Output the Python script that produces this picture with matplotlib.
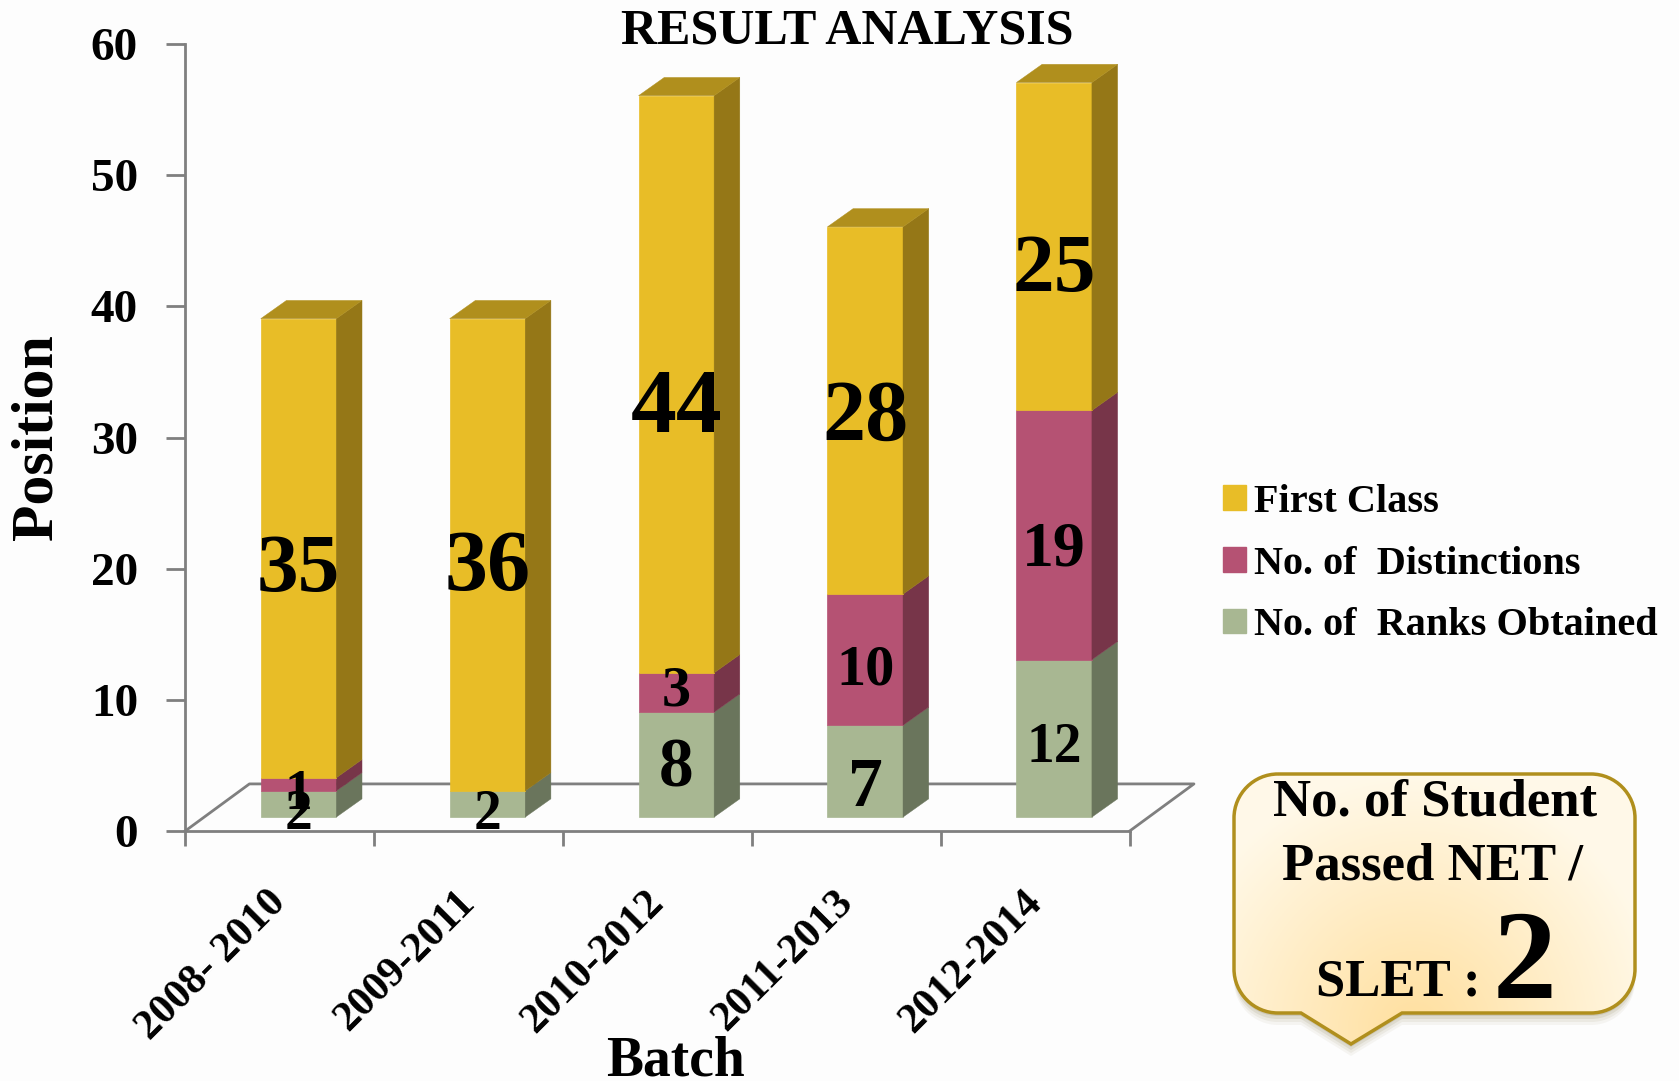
import numpy as np
import matplotlib
matplotlib.use("Agg")
import matplotlib.pyplot as plt
from matplotlib.patches import PathPatch, Polygon
from matplotlib.path import Path
from matplotlib.transforms import ScaledTranslation

plt.rcParams["font.family"] = ["Liberation Serif", "DejaVu Serif"]
plt.rcParams["font.weight"] = "bold"

batches = ["2008- 2010", "2009-2011", "2010-2012", "2011-2013", "2012-2014"]
ranks = [2, 2, 8, 7, 12]
distinctions = [1, 0, 3, 10, 19]
first_class = [35, 36, 44, 28, 25]

GRAY = "#7f7f7f"
FIG_W, FIG_H = 1679, 1081

# front face, side face, top face
series = [
    ("No. of  Ranks Obtained", ranks, "#A8B792", "#6A755C", "#8A967A"),
    ("No. of  Distinctions", distinctions, "#B55273", "#773549", "#93435E"),
    ("First Class", first_class, "#E8BD27", "#957717", "#B08F1D"),
]

# label tweaks, in value units and pt
label_dy = [
    [-0.85, -0.85, -0.35, -1.35, -0.75],
    [-0.85, 0.0, 0.05, -0.85, -1.15],
    [-1.75, -1.1, -1.95, -0.7, -1.9],
]
label_size = [
    [40, 40, 50, 50, 40],
    [40, 0, 42, 42, 46],
    [60, 62, 66, 62, 60],
]

BAR_W = 0.40
BAR_DX = 0.10     # bars sit forward of the tick centre
FLOOR_Y = 1.06    # front of the bars above the y=0 line
DEPTH_X = 0.136
DEPTH_Y = 1.39
FLOOR_DX = 0.34
FLOOR_DY = 3.59


def draw_bars(ax):
    for i in range(len(batches)):
        x0 = i + BAR_DX - BAR_W / 2
        x1 = x0 + BAR_W
        base = FLOOR_Y
        for s, (name, vals, front, side, top) in enumerate(series):
            v = vals[i]
            if v > 0:
                ax.bar(i + BAR_DX, v, BAR_W, bottom=base, color=front, zorder=3,
                       edgecolor=front, linewidth=0.5)
                ax.add_patch(Polygon(
                    [(x1, base), (x1 + DEPTH_X, base + DEPTH_Y),
                     (x1 + DEPTH_X, base + v + DEPTH_Y), (x1, base + v)],
                    facecolor=side, edgecolor=side, linewidth=0.3, zorder=3))
                ax.text(i + BAR_DX, base + v / 2 + label_dy[s][i], str(v),
                        ha="center", va="center", fontsize=label_size[s][i],
                        color="black", zorder=6)
            base += v
        ax.add_patch(Polygon(
            [(x0, base), (x1, base), (x1 + DEPTH_X, base + DEPTH_Y),
             (x0 + DEPTH_X, base + DEPTH_Y)],
            facecolor=series[-1][4], edgecolor=series[-1][4], linewidth=0.3, zorder=3))


def draw_floor(ax):
    n = len(batches)
    xs = [-0.5, -0.5 + FLOOR_DX, n - 0.5 + FLOOR_DX, n - 0.5]
    ys = [0, FLOOR_DY, FLOOR_DY, 0]
    ax.plot(xs, ys, color=GRAY, lw=2, zorder=2, clip_on=False)


def callout_path(l, r, t, b, rad, tail):
    tl, tip, tr = tail
    k = 0.45 * rad
    verts = [
        (l + rad, t), (r - rad, t),
        (r - k, t), (r, t + k), (r, t + rad),
        (r, b - rad),
        (r, b - k), (r - k, b), (r - rad, b),
        (tr, b), tip, (tl, b), (l + rad, b),
        (l + k, b), (l, b - k), (l, b - rad),
        (l, t + rad),
        (l, t + k), (l + k, t), (l + rad, t),
    ]
    codes = [Path.MOVETO, Path.LINETO,
             Path.CURVE4, Path.CURVE4, Path.CURVE4, Path.LINETO,
             Path.CURVE4, Path.CURVE4, Path.CURVE4,
             Path.LINETO, Path.LINETO, Path.LINETO, Path.LINETO,
             Path.CURVE4, Path.CURVE4, Path.CURVE4, Path.LINETO,
             Path.CURVE4, Path.CURVE4, Path.CURVE4]
    return Path(verts, codes)


def draw_callout(fig):
    # overlay in pixels, y going down
    ov = fig.add_axes([0, 0, 1, 1], zorder=10)
    ov.set_xlim(0, FIG_W)
    ov.set_ylim(FIG_H, 0)
    ov.axis("off")
    ov.patch.set_alpha(0)

    l, r, t, b = 1234, 1635, 774, 1013
    path = callout_path(l, r, t, b, 44, (1301, (1351, 1044), (1402)))

    for off, alpha in [(12, 0.05), (9, 0.07), (6, 0.10), (3, 0.14)]:
        shadow = Path(path.vertices + [0, off], path.codes)
        ov.add_patch(PathPatch(shadow, facecolor="#6b5a20", edgecolor="none", alpha=alpha))

    gx, gy = np.meshgrid(np.linspace(0, 1, 200), np.linspace(0, 1, 200))
    dist = np.sqrt(((gx - 0.45) / 0.62) ** 2 + ((gy - 0.95) / 0.95) ** 2)
    dist = np.clip(dist, 0, 1)[..., None]
    inner = np.array([1.0, 0.875, 0.62])
    outer = np.array([1.0, 0.975, 0.91])
    img = ov.imshow(inner + (outer - inner) * dist, extent=[l, r, 1044, t],
                    aspect="auto", zorder=1)
    ov.set_xlim(0, FIG_W)
    ov.set_ylim(FIG_H, 0)
    border = PathPatch(path, facecolor="none", edgecolor="#B08F1D", lw=2.5, zorder=2)
    ov.add_patch(border)
    img.set_clip_path(border)

    ov.text(1435, 803, "No. of Student", ha="center", va="center", fontsize=38, zorder=3)
    ov.text(1432, 867, "Passed NET /", ha="center", va="center", fontsize=38, zorder=3)
    ov.text(1398, 982, "SLET :", ha="center", va="center", fontsize=38, zorder=3)
    ov.text(1525, 968, "2", ha="center", va="center", fontsize=92, zorder=3)


def main():
    fig = plt.figure(figsize=(FIG_W / 100, FIG_H / 100), dpi=100, facecolor="#FDFDFD")
    ax = fig.add_axes([185.2 / FIG_W, 250 / FIG_H, 944.5 / FIG_W, 787 / FIG_H])
    ax.set_facecolor("none")

    draw_floor(ax)
    draw_bars(ax)

    ax.set_xlim(-0.5, len(batches) - 0.5)
    ax.set_ylim(0, 60)
    ax.set_yticks(range(0, 61, 10))
    ax.set_xticks(np.arange(len(batches) + 1) - 0.5)
    ax.set_xticklabels([])
    ax.set_xticks(range(len(batches)), batches, minor=True)
    ax.tick_params(axis="x", which="minor", length=0, pad=38, labelsize=30.5)
    ax.tick_params(axis="x", which="major", length=11, width=2, color=GRAY)
    ax.tick_params(axis="y", length=14, width=2, color=GRAY, labelsize=34, pad=20)
    shift = ScaledTranslation(-9 / 72, 0, fig.dpi_scale_trans)
    for lab in ax.get_xticklabels(minor=True):
        lab.set_rotation(45)
        lab.set_ha("right")
        lab.set_rotation_mode("anchor")
        lab.set_va("top")
        lab.set_transform(lab.get_transform() + shift)
    for side in ["top", "right"]:
        ax.spines[side].set_visible(False)
    for side in ["left", "bottom"]:
        ax.spines[side].set_color(GRAY)
        ax.spines[side].set_linewidth(2)

    fig.text(847 / FIG_W, 1 - 31 / FIG_H, "RESULT ANALYSIS", ha="center", va="center", fontsize=36)
    fig.text(675 / FIG_W, 1 - 1062 / FIG_H, "Batch", ha="center", va="center", fontsize=40)
    fig.text(38 / FIG_W, 1 - 437 / FIG_H, "Position", ha="center", va="center",
             rotation=90, fontsize=43)

    handles = [plt.Rectangle((0, 0), 1, 1, color=c) for _, _, c, _, _ in reversed(series)]
    names = [s[0] for s in reversed(series)]
    fig.legend(handles, names, loc="center left", frameon=False, fontsize=29,
               bbox_to_anchor=(1223 / FIG_W, 1 - 564 / FIG_H),
               handlelength=0.56, handleheight=0.56, handletextpad=0.2,
               labelspacing=0.62, borderpad=0, borderaxespad=0)

    draw_callout(fig)
    fig.savefig("out.png", dpi=100, facecolor=fig.get_facecolor())


if __name__ == "__main__":
    main()
